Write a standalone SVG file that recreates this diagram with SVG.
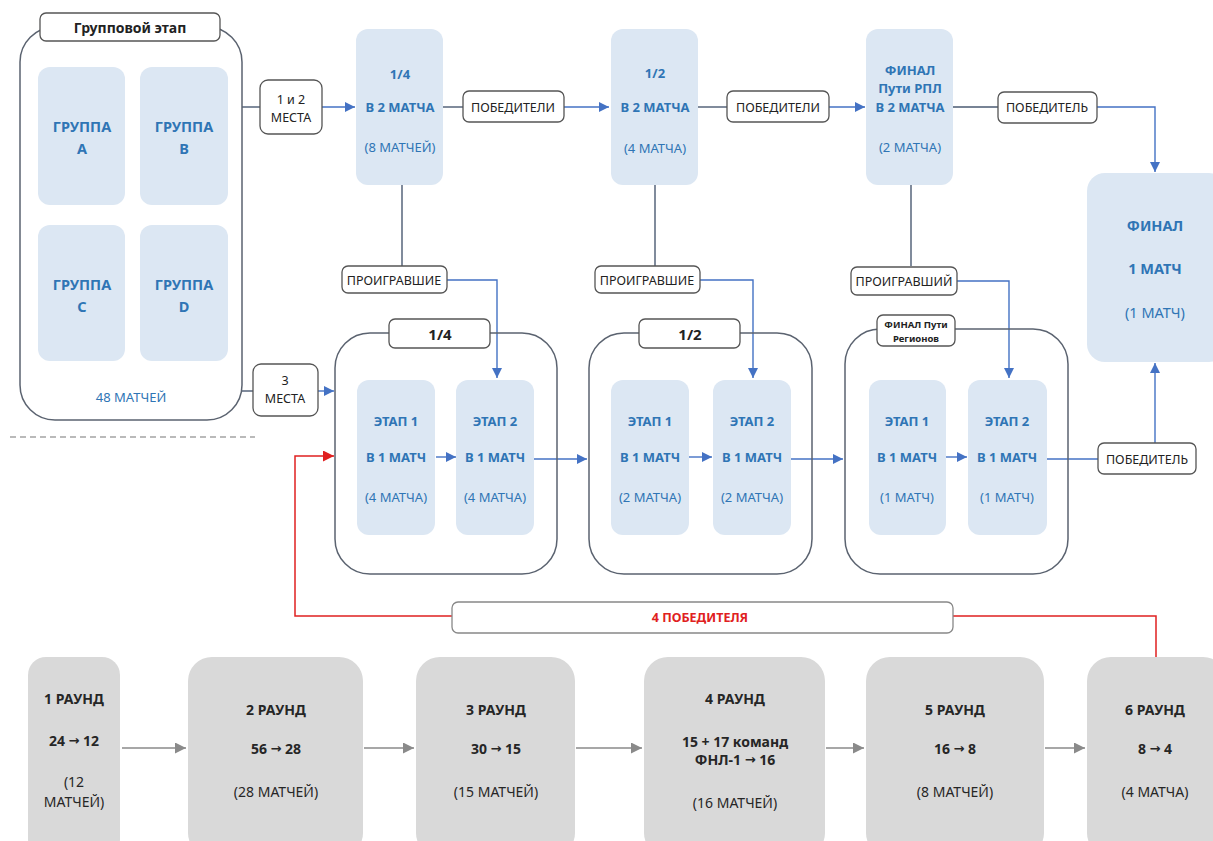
<svg xmlns="http://www.w3.org/2000/svg" width="1213" height="841" viewBox="0 0 1213 841">
<defs>
<style>
text{font-family:"Noto Sans","Liberation Sans",sans-serif;text-anchor:middle;dominant-baseline:central}
.node{fill:#dce7f3}
.bt{fill:#2f75b5;font-size:13px;font-weight:bold}
.bn{fill:#2f75b5;font-size:13px}
.gl{fill:#2f75b5;font-size:14.5px;font-weight:bold}
.cont{fill:none;stroke:#5b6370;stroke-width:1.5}
.lbl{fill:#fff;stroke:#555;stroke-width:1.3}
.lt{fill:#222;font-size:12.5px}
.ttl{fill:#222;font-size:14px;font-weight:bold}
.gray{fill:#d9d9d9}
.gt{fill:#262626;font-size:14px;font-weight:bold}
.gn{fill:#262626;font-size:14px}
.arw{font-family:"DejaVu Sans",sans-serif;font-size:13px}
.ln{fill:none;stroke:#4a5a72;stroke-width:1.4}
.lb{fill:none;stroke:#4472c4;stroke-width:1.4}
.lg{fill:none;stroke:#8a8a8a;stroke-width:1.6}
.lr{fill:none;stroke:#e02020;stroke-width:1.5}
</style>
<marker id="ab" viewBox="0 0 10 10" refX="10" refY="5" markerWidth="10" markerHeight="10" markerUnits="userSpaceOnUse" orient="auto"><path d="M0,0 L10,5 L0,10 Z" fill="#4472c4"/></marker>
<marker id="ag" viewBox="0 0 10 10" refX="10" refY="5" markerWidth="11" markerHeight="11" markerUnits="userSpaceOnUse" orient="auto"><path d="M0,0 L10,5 L0,10 Z" fill="#8a8a8a"/></marker>
<marker id="ar" viewBox="0 0 10 10" refX="10" refY="5" markerWidth="11" markerHeight="11" markerUnits="userSpaceOnUse" orient="auto"><path d="M0,0 L10,5 L0,10 Z" fill="#e02020"/></marker>
</defs>
<rect width="1213" height="841" fill="#fff"/>

<g id="connectors">
<line x1="10" y1="437" x2="255" y2="437" stroke="#777" stroke-width="1.2" stroke-dasharray="6,4"/>
<path class="ln" d="M242,107 H260"/>
<path class="lb" d="M322,107 H355" marker-end="url(#ab)"/>
<path class="ln" d="M443,107 H463"/>
<path class="lb" d="M564,107 H609" marker-end="url(#ab)"/>
<path class="ln" d="M698,107 H727"/>
<path class="lb" d="M829,107 H865" marker-end="url(#ab)"/>
<path class="ln" d="M953,107 H998"/>
<path class="lb" d="M1097,107 H1155 V172" marker-end="url(#ab)"/>
<path class="ln" d="M402,185 V266"/>
<path class="ln" d="M655,185 V266"/>
<path class="ln" d="M911,185 V266"/>
<path class="lb" d="M447,280 H497 V378" marker-end="url(#ab)"/>
<path class="lb" d="M700,280 H753 V378" marker-end="url(#ab)"/>
<path class="lb" d="M957,281 H1009 V378" marker-end="url(#ab)"/>
<path class="ln" d="M242,391 H253"/>
<path class="lb" d="M318,391 H334" marker-end="url(#ab)"/>
<path class="lb" d="M436,457 H456" marker-end="url(#ab)"/>
<path class="lb" d="M533,459 H587" marker-end="url(#ab)"/>
<path class="lb" d="M689,457 H712" marker-end="url(#ab)"/>
<path class="lb" d="M790,459 H843" marker-end="url(#ab)"/>
<path class="lb" d="M946,457 H967" marker-end="url(#ab)"/>
<path class="lb" d="M1047,459 H1098"/>
<path class="lb" d="M1155,443 V363" marker-end="url(#ab)"/>
<path class="lr" d="M452,616 H295 V456 H334" marker-end="url(#ar)"/>
<path class="lr" d="M953,616 H1156 V658"/>
<path class="lg" d="M122,748 H186" marker-end="url(#ag)"/>
<path class="lg" d="M364,748 H414" marker-end="url(#ag)"/>
<path class="lg" d="M576,748 H642" marker-end="url(#ag)"/>
<path class="lg" d="M826,748 H864" marker-end="url(#ag)"/>
<path class="lg" d="M1045,748 H1085" marker-end="url(#ag)"/>
</g>

<g id="group-stage">
<rect class="cont" x="20" y="27" width="222" height="393" rx="35"/>
<rect class="lbl" x="40" y="13" width="180" height="28" rx="6"/>
<text class="ttl" x="130" y="27">Групповой этап</text>
<rect class="node" x="38" y="67" width="87" height="138" rx="12"/>
<text class="gl" x="82" y="126">ГРУППА</text><text class="gl" x="82" y="148">A</text>
<rect class="node" x="140" y="67" width="88" height="138" rx="12"/>
<text class="gl" x="184" y="126">ГРУППА</text><text class="gl" x="184" y="148">B</text>
<rect class="node" x="38" y="225" width="87" height="136" rx="12"/>
<text class="gl" x="82" y="284">ГРУППА</text><text class="gl" x="82" y="306">C</text>
<rect class="node" x="140" y="225" width="88" height="136" rx="12"/>
<text class="gl" x="184" y="284">ГРУППА</text><text class="gl" x="184" y="306">D</text>
<text class="bn" x="131" y="397">48 МАТЧЕЙ</text>
</g>

<g id="lbl-12-places"><rect class="lbl" x="260" y="80" width="62" height="54" rx="8"/><text class="lt" x="291" y="99">1 и 2</text><text class="lt" x="291" y="117">МЕСТА</text></g>
<g id="lbl-3-places"><rect class="lbl" x="253" y="364" width="65" height="52" rx="8"/><text class="lt" x="285" y="380">3</text><text class="lt" x="285" y="398">МЕСТА</text></g>

<g id="rpl-qf"><rect class="node" x="356" y="29" width="87" height="156" rx="12"/>
<text class="bt" x="400" y="74">1/4</text><text class="bt" x="400" y="107">В 2 МАТЧА</text><text class="bn" x="400" y="147">(8 МАТЧЕЙ)</text></g>
<g id="lbl-win1"><rect class="lbl" x="463" y="91" width="101" height="31" rx="6"/><text class="lt" x="513" y="107">ПОБЕДИТЕЛИ</text></g>
<g id="rpl-sf"><rect class="node" x="611" y="29" width="87" height="156" rx="12"/>
<text class="bt" x="655" y="73">1/2</text><text class="bt" x="655" y="107">В 2 МАТЧА</text><text class="bn" x="655" y="148">(4 МАТЧА)</text></g>
<g id="lbl-win2"><rect class="lbl" x="727" y="91" width="102" height="31" rx="6"/><text class="lt" x="778" y="107">ПОБЕДИТЕЛИ</text></g>
<g id="rpl-final"><rect class="node" x="866" y="29" width="87" height="156" rx="12"/>
<text class="bt" x="910" y="70">ФИНАЛ</text><text class="bt" x="910" y="88">Пути РПЛ</text><text class="bt" x="910" y="107">В 2 МАТЧА</text><text class="bn" x="910" y="147">(2 МАТЧА)</text></g>
<g id="lbl-win3"><rect class="lbl" x="998" y="92" width="99" height="31" rx="6"/><text class="lt" x="1047" y="107">ПОБЕДИТЕЛЬ</text></g>
<g id="final"><rect class="node" x="1087" y="173" width="140" height="189" rx="18"/>
<text class="gl" x="1155" y="225">ФИНАЛ</text><text class="gl" x="1155" y="268">1 МАТЧ</text><text class="bn" x="1155" y="312" style="font-size:14.5px">(1 МАТЧ)</text></g>

<g id="lbl-lose1"><rect class="lbl" x="342" y="266" width="105" height="27" rx="6"/><text class="lt" x="394" y="280">ПРОИГРАВШИЕ</text></g>
<g id="lbl-lose2"><rect class="lbl" x="595" y="266" width="105" height="27" rx="6"/><text class="lt" x="647" y="280">ПРОИГРАВШИЕ</text></g>
<g id="lbl-lose3"><rect class="lbl" x="851" y="267" width="106" height="28" rx="6"/><text class="lt" x="904" y="281">ПРОИГРАВШИЙ</text></g>

<g id="reg-qf">
<rect class="cont" x="335" y="333" width="222" height="241" rx="35"/>
<rect class="lbl" x="389" y="319" width="101" height="29" rx="6"/><text class="ttl" x="440" y="334" style="font-size:15px">1/4</text>
<rect class="node" x="357" y="380" width="78" height="155" rx="12"/>
<text class="bt" x="396" y="421">ЭТАП 1</text><text class="bt" x="396" y="457">В 1 МАТЧ</text><text class="bn" x="396" y="497">(4 МАТЧА)</text>
<rect class="node" x="456" y="380" width="78" height="155" rx="12"/>
<text class="bt" x="495" y="421">ЭТАП 2</text><text class="bt" x="495" y="457">В 1 МАТЧ</text><text class="bn" x="495" y="497">(4 МАТЧА)</text>
</g>
<g id="reg-sf">
<rect class="cont" x="589" y="333" width="223" height="241" rx="35"/>
<rect class="lbl" x="639" y="319" width="101" height="29" rx="6"/><text class="ttl" x="690" y="334" style="font-size:15px">1/2</text>
<rect class="node" x="611" y="380" width="78" height="155" rx="12"/>
<text class="bt" x="650" y="421">ЭТАП 1</text><text class="bt" x="650" y="457">В 1 МАТЧ</text><text class="bn" x="650" y="497">(2 МАТЧА)</text>
<rect class="node" x="713" y="380" width="78" height="155" rx="12"/>
<text class="bt" x="752" y="421">ЭТАП 2</text><text class="bt" x="752" y="457">В 1 МАТЧ</text><text class="bn" x="752" y="497">(2 МАТЧА)</text>
</g>
<g id="reg-final">
<rect class="cont" x="845" y="329" width="223" height="245" rx="35"/>
<rect class="lbl" x="877" y="315" width="78" height="31" rx="6"/>
<text class="ttl" x="916" y="324" style="font-size:9.5px">ФИНАЛ Пути</text><text class="ttl" x="916" y="338" style="font-size:9.5px">Регионов</text>
<rect class="node" x="869" y="380" width="77" height="155" rx="12"/>
<text class="bt" x="907" y="421">ЭТАП 1</text><text class="bt" x="907" y="457">В 1 МАТЧ</text><text class="bn" x="907" y="497">(1 МАТЧ)</text>
<rect class="node" x="968" y="380" width="79" height="155" rx="12"/>
<text class="bt" x="1007" y="421">ЭТАП 2</text><text class="bt" x="1007" y="457">В 1 МАТЧ</text><text class="bn" x="1007" y="497">(1 МАТЧ)</text>
</g>
<g id="lbl-win4"><rect class="lbl" x="1098" y="443" width="98" height="31" rx="6"/><text class="lt" x="1147" y="459">ПОБЕДИТЕЛЬ</text></g>

<g id="lbl-4win"><rect class="lbl" x="452" y="602" width="501" height="31" rx="6" style="stroke:#888"/><text x="700" y="617" style="fill:#e02020;font-size:12.5px;font-weight:bold">4 ПОБЕДИТЕЛЯ</text></g>

<g id="r1"><rect class="gray" x="28" y="657" width="92" height="200" rx="18"/>
<text class="gt" x="74" y="698">1 РАУНД</text><text class="gt" x="74" y="740">24 <tspan class="arw">→</tspan> 12</text><text class="gn" x="74" y="781">(12</text><text class="gn" x="74" y="801">МАТЧЕЙ)</text></g>
<g id="r2"><rect class="gray" x="188" y="657" width="175" height="200" rx="24"/>
<text class="gt" x="276" y="709">2 РАУНД</text><text class="gt" x="276" y="748">56 <tspan class="arw">→</tspan> 28</text><text class="gn" x="276" y="791">(28 МАТЧЕЙ)</text></g>
<g id="r3"><rect class="gray" x="416" y="657" width="159" height="200" rx="24"/>
<text class="gt" x="496" y="709">3 РАУНД</text><text class="gt" x="496" y="748">30 <tspan class="arw">→</tspan> 15</text><text class="gn" x="496" y="791">(15 МАТЧЕЙ)</text></g>
<g id="r4"><rect class="gray" x="644" y="657" width="181" height="200" rx="24"/>
<text class="gt" x="735" y="698">4 РАУНД</text><text class="gt" x="735" y="741">15 + 17 команд</text><text class="gt" x="735" y="759">ФНЛ-1 <tspan class="arw">→</tspan> 16</text><text class="gn" x="735" y="802">(16 МАТЧЕЙ)</text></g>
<g id="r5"><rect class="gray" x="866" y="657" width="178" height="200" rx="24"/>
<text class="gt" x="955" y="709">5 РАУНД</text><text class="gt" x="955" y="748">16 <tspan class="arw">→</tspan> 8</text><text class="gn" x="955" y="791">(8 МАТЧЕЙ)</text></g>
<g id="r6"><rect class="gray" x="1087" y="657" width="140" height="200" rx="24"/>
<text class="gt" x="1155" y="709">6 РАУНД</text><text class="gt" x="1155" y="748">8 <tspan class="arw">→</tspan> 4</text><text class="gn" x="1155" y="791">(4 МАТЧА)</text></g>
</svg>
